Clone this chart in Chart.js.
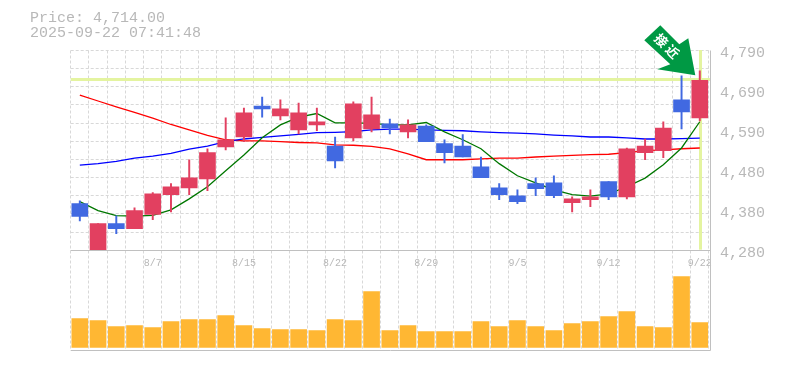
<!DOCTYPE html>
<html>
<head>
<meta charset="utf-8">
<style>
html, body { margin: 0; padding: 0; background: #fff; }
#wrap { position: relative; width: 785px; height: 370px; overflow: hidden; }
#info { position: absolute; left: 30px; top: 11px; font: 15px/15px "Liberation Mono", monospace; color: #b8b8b8; white-space: pre; }
canvas { display: block; }
</style>
</head>
<body>
<div id="wrap">
<div id="info">Price: 4,714.00
2025-09-22 07:41:48</div>
<canvas id="myChart" width="785" height="370"></canvas>
</div>
<script src="https://cdn.jsdelivr.net/npm/chart.js@4"></script>
<script>
var dates = ['8/1','8/4','8/5','8/6','8/7','8/8','8/12','8/13','8/14','8/15','8/18','8/19','8/20','8/21','8/22','8/25','8/26','8/27','8/28','8/29','9/1','9/2','9/3','9/4','9/5','9/8','9/9','9/10','9/11','9/12','9/16','9/17','9/18','9/19','9/22'];
var dateLabels = ['8/7','8/15','8/22','8/29','9/5','9/12','9/22'];
var opens = [4399,4280,4348,4335,4371,4422,4439,4462,4544,4569,4648,4623,4587,4600,4546,4567,4590,4603,4582,4597,4552,4546,4493,4439,4419,4450,4452,4401,4409,4455,4416,4529,4534,4664,4618];
var closes = [4366,4348,4335,4381,4424,4442,4465,4529,4562,4631,4641,4641,4631,4608,4508,4654,4626,4592,4600,4557,4529,4518,4465,4422,4404,4437,4419,4411,4416,4416,4539,4546,4592,4633,4714];
var highs = [4406,4348,4368,4388,4427,4450,4511,4539,4618,4643,4671,4664,4656,4643,4569,4659,4671,4615,4613,4600,4562,4575,4518,4450,4434,4465,4470,4416,4434,4455,4541,4564,4608,4725,4738];
var lows = [4355,4280,4322,4335,4358,4378,4422,4432,4536,4557,4620,4613,4577,4585,4490,4559,4582,4577,4567,4557,4503,4518,4465,4409,4399,4419,4414,4378,4391,4409,4411,4511,4516,4590,4610];
var maShort = [4404,4381,4368,4367,4369,4383,4411,4442,4483,4523,4567,4600,4620,4629,4605,4605,4604,4600,4600,4606,4582,4562,4539,4501,4470,4452,4434,4422,4418,4424,4442,4464,4498,4541,4608];
var maMid = [4497,4501,4507,4515,4520,4527,4538,4546,4557,4564,4568,4572,4576,4580,4581,4583,4587,4589,4589,4587,4586,4585,4582,4580,4579,4577,4574,4572,4569,4569,4567,4564,4564,4565,4566];
var maLong = [4676,4661,4646,4632,4617,4601,4587,4573,4562,4559,4559,4557,4555,4554,4549,4548,4545,4539,4526,4511,4511,4511,4513,4515,4515,4518,4520,4522,4524,4525,4529,4534,4536,4539,4541];
var volumes = [29,27,21,22,20,26,28,28,32,22,19,18,18,17,28,27,56,17,22,16,16,16,26,21,27,21,17,24,26,31,36,21,20,71,25];
var priceTicks = [4790,4688,4586,4484,4382,4280];
var priceLabels = ['4,790','4,690','4,590','4,480','4,380','4,280'];
var lastPrice = 4714;

var priceMin = 4280, priceMax = 4790, gridRows = 11;
var upColor = '#e24060', downColor = '#4169e1', bandColor = '#e4f4a0', frameColor = '#c0c0c0', textColor = '#b8b8b8';

function candleColors() {
    return dates.map(function(d, i) { return closes[i] >= opens[i] ? upColor : downColor; });
}

var extras = {
    id: 'extras',
    beforeDatasetsDraw: function(chart) {
        var c = chart.ctx, x = chart.scales.x, y = chart.scales.y;
        c.save();
        c.fillStyle = bandColor;
        c.fillRect(x.left, Math.round(y.getPixelForValue(lastPrice)) - 2, x.right - x.left + 1, 3);
        c.fillRect(Math.round(x.getPixelForValue(dates.length - 1)) - 1, Math.floor(y.top), 3, y.bottom - y.top);
        c.restore();
    },
    afterDatasetsDraw: function(chart) {
        var c = chart.ctx, x = chart.scales.x, y = chart.scales.y, v = chart.scales.vol;
        var r = Math.round(x.right) + 1.5;
        var mid = Math.floor(y.bottom) + 0.5, bot = Math.floor(v.bottom) + 0.5;
        c.save();
        c.strokeStyle = frameColor;
        c.lineWidth = 1;
        c.beginPath();
        c.moveTo(x.left, mid); c.lineTo(r, mid);
        c.moveTo(x.left, bot); c.lineTo(r, bot);
        c.moveTo(r, y.top); c.lineTo(r, bot);
        c.stroke();
        // arrow pointing at the last candle
        var tx = x.getPixelForValue(dates.length - 1) - 4.5;
        var ty = y.getPixelForValue(lastPrice) - 5;
        var arrow = [[0,0],[-7,-37],[-16,-31],[-35,-50],[-51,-35],[-25,-11],[-38,-6]];
        c.fillStyle = '#009944';
        c.beginPath();
        arrow.forEach(function(p, i) {
            if (i === 0) c.moveTo(tx + p[0], ty + p[1]); else c.lineTo(tx + p[0], ty + p[1]);
        });
        c.closePath();
        c.fill();
        c.translate(tx - 28, ty - 29);
        c.rotate(Math.PI / 4);
        c.fillStyle = '#fff';
        c.font = 'bold 13px "Noto Sans CJK JP"';
        c.letterSpacing = '3px';
        c.textAlign = 'center';
        c.textBaseline = 'middle';
        c.fillText('接近', 1, 0);
        c.restore();
    }
};

var ctx = document.getElementById('myChart').getContext('2d');
new Chart(ctx, {
    data: {
        labels: dates,
        datasets: [
            { type: 'line', data: maLong, borderColor: '#ff0000', borderWidth: 1.3, pointRadius: 0, tension: 0, order: 5, yAxisID: 'y' },
            { type: 'line', data: maMid, borderColor: '#0000ff', borderWidth: 1.3, pointRadius: 0, tension: 0, order: 4, yAxisID: 'y' },
            { type: 'line', data: maShort, borderColor: '#007700', borderWidth: 1.3, pointRadius: 0, tension: 0, order: 3, yAxisID: 'y' },
            { type: 'bar', data: lows.map(function(l, i) { return [l, highs[i]]; }), backgroundColor: candleColors(), barThickness: 1.3, grouped: false, order: 2, yAxisID: 'y' },
            { type: 'bar', data: opens.map(function(o, i) { return [o, closes[i]]; }), backgroundColor: candleColors(), barThickness: 16, grouped: false, order: 1, yAxisID: 'y' },
            { type: 'bar', data: volumes, backgroundColor: '#ffb733', barThickness: 16, grouped: false, order: 1, yAxisID: 'vol' }
        ]
    },
    options: {
        responsive: false,
        animation: false,
        events: [],
        layout: { padding: { left: 70.7, top: 50.5, bottom: 19.5, right: 0 } },
        plugins: { legend: { display: false }, tooltip: { enabled: false } },
        scales: {
            x: {
                type: 'category',
                afterFit: function(s) { s.height = 0; s.paddingLeft = 0; s.paddingRight = 0; },
                border: { display: false, dash: [3, 2] },
                grid: { color: '#d8d8d8', drawTicks: false, offset: true },
                ticks: {
                    autoSkip: false, maxRotation: 0, mirror: true, padding: 81,
                    color: textColor, font: { family: '"Liberation Mono"', size: 10 },
                    callback: function(v, i) { return dateLabels.indexOf(dates[i]) >= 0 ? dates[i] : ''; }
                }
            },
            y: {
                position: 'right', stack: 'panes', stackWeight: 2,
                min: priceMin, max: priceMax,
                afterFit: function(s) { s.width = 76.1; },
                afterBuildTicks: function(s) {
                    var t = [];
                    for (var k = 0; k <= gridRows; k++) t.push({ value: priceMin + (priceMax - priceMin) * k / gridRows, grid: true });
                    priceTicks.forEach(function(p, i) { t.push({ value: p, text: priceLabels[i] }); });
                    s.ticks = t;
                },
                border: { display: false, dash: [3, 2] },
                grid: {
                    drawTicks: false,
                    color: function(c) { return c.tick && c.tick.grid ? '#d8d8d8' : 'rgba(0,0,0,0)'; }
                },
                ticks: {
                    autoSkip: false, padding: 11, labelOffset: 3,
                    color: textColor, font: { family: '"Liberation Mono"', size: 15 },
                    callback: function(v, i, t) { return t[i].text || ''; }
                }
            },
            vol: {
                position: 'right', stack: 'panes', stackWeight: 1,
                min: -2.5, max: 97.5,
                afterFit: function(s) { s.width = 76.1; },
                border: { display: false },
                grid: { display: false },
                ticks: { display: false }
            }
        }
    },
    plugins: [extras]
});
</script>
</body>
</html>
